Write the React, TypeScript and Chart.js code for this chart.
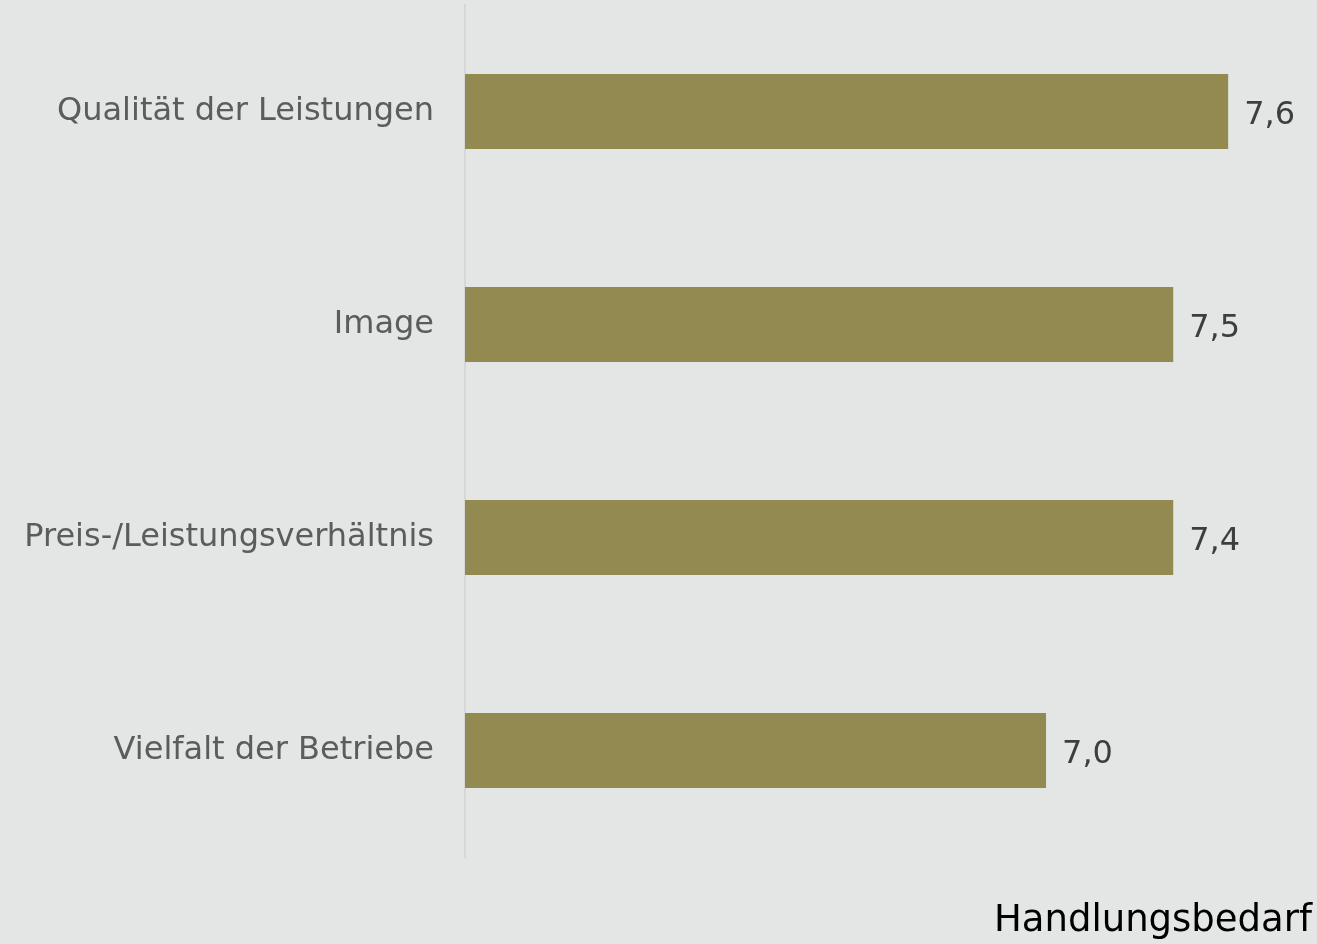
import React, { useEffect, useRef } from "react";
import { Chart, registerables } from "chart.js";

Chart.register(...registerables);

const categories = [
  "Qualität der Leistungen",
  "Image",
  "Preis-/Leistungsverhältnis",
  "Vielfalt der Betriebe",
];
const values = [7.64, 7.45, 7.45, 7.01];
const valueLabels = ["7,6", "7,5", "7,4", "7,0"];
const axisTitle = "Handlungsbedarf";

const FONT = "'DejaVu Sans', Verdana, sans-serif";
const BG = "#e4e6e5";
const BAR = "#938a52";

const valueLabelPlugin = {
  id: "valueLabels",
  afterDatasetsDraw(chart: any) {
    const { ctx } = chart;
    const meta = chart.getDatasetMeta(0);
    ctx.save();
    ctx.font = `32px ${FONT}`;
    ctx.fillStyle = "#3d3f3e";
    ctx.textAlign = "left";
    ctx.textBaseline = "middle";
    meta.data.forEach((bar: any, i: number) => {
      ctx.fillText(valueLabels[i], bar.x + 16, bar.y + 4);
    });
    ctx.restore();
  },
};

export default function App() {
  const ref = useRef<HTMLCanvasElement | null>(null);

  useEffect(() => {
    document.body.style.margin = "0";
    document.body.style.background = BG;
    const canvas = ref.current;
    if (!canvas) return;
    const chart = new Chart(canvas, {
      type: "bar",
      data: {
        labels: categories,
        datasets: [
          {
            data: values,
            backgroundColor: BAR,
            borderWidth: 0,
            barPercentage: 0.352,
            categoryPercentage: 1,
          },
        ],
      },
      options: {
        indexAxis: "y",
        animation: false,
        responsive: true,
        maintainAspectRatio: false,
        layout: { padding: { top: 5, right: 5, left: 0, bottom: 0 } },
        plugins: {
          legend: { display: false },
          tooltip: { enabled: false },
        },
        scales: {
          x: {
            min: 5,
            max: 7.93,
            ticks: { display: false },
            grid: { display: false, drawTicks: false },
            border: { display: false },
            title: {
              display: true,
              text: axisTitle,
              align: "end",
              color: "#000000",
              font: { family: FONT, size: 37 },
              padding: { top: 0, bottom: 0 },
            },
            afterFit(scale: any) {
              scale.height = 87;
              scale.paddingLeft = 0;
              scale.paddingRight = 0;
            },
          },
          y: {
            ticks: {
              color: "#5a5d5c",
              font: { family: FONT, size: 32 },
              padding: 31,
            },
            grid: { display: false, drawTicks: false },
            border: { display: true, color: "#d6d8d7", width: 2 },
            afterFit(scale: any) {
              scale.width = 465;
              scale.paddingTop = 0;
              scale.paddingBottom = 0;
            },
          },
        },
      },
      plugins: [valueLabelPlugin],
    });
    return () => chart.destroy();
  }, []);

  return (
    <div style={{ width: 1317, height: 944, background: BG, position: "relative" }}>
      <canvas ref={ref} />
    </div>
  );
}
